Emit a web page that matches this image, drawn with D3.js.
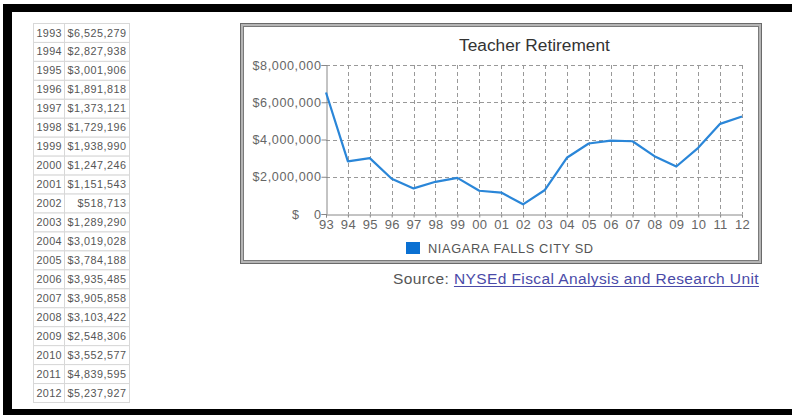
<!DOCTYPE html>
<html><head><meta charset="utf-8">
<script src="https://cdn.jsdelivr.net/npm/d3@7"></script>
<style>
body{margin:0;background:#fff}
svg{display:block}
text{font-family:"Liberation Sans",Arial,Helvetica,sans-serif}
</style>
</head><body>
<svg id="c" width="792" height="415"></svg>
<script>
const years = [1993,1994,1995,1996,1997,1998,1999,2000,2001,2002,2003,2004,2005,2006,2007,2008,2009,2010,2011,2012];
const values = [6525279,2827938,3001906,1891818,1373121,1729196,1938990,1247246,1151543,518713,1289290,3019028,3784188,3935485,3905858,3103422,2548306,3552577,4839595,5237927];
const yTicks = [0,2000000,4000000,6000000,8000000];
const xLabels = years.map(y => String(y).slice(2));
const title = "Teacher Retirement";
const seriesName = "NIAGARA FALLS CITY SD";
const sourceLabel = "Source: ";
const sourceLink = "NYSEd Fiscal Analysis and Research Unit";

const svg = d3.select("#c");
const money = d3.format("$,");

// outer black frame
svg.append("rect").attr("x",3).attr("y",4).attr("width",789).attr("height",8).attr("fill","#000");
svg.append("rect").attr("x",3).attr("y",4).attr("width",9).attr("height",411).attr("fill","#000");
svg.append("rect").attr("x",3).attr("y",409).attr("width",789).attr("height",6).attr("fill","#000");

// data table
const tx0 = 33, tx1 = 64, tx2 = 129, ty0 = 23, rh = 18.95;
const tbl = svg.append("g");
years.forEach((yr, i) => {
  const y = ty0 + i*rh;
  tbl.append("rect").attr("x",tx0+0.5).attr("y",y+0.5).attr("width",tx1-tx0).attr("height",rh)
    .attr("fill","#fff").attr("stroke","#d8d8d8");
  tbl.append("rect").attr("x",tx1+0.5).attr("y",y+0.5).attr("width",tx2-tx1).attr("height",rh)
    .attr("fill","#fff").attr("stroke","#d8d8d8");
  tbl.append("text").attr("x",36.5).attr("y",y+13.5).attr("font-size",10.8).attr("letter-spacing",0.35)
    .attr("fill","#555").text(yr);
  tbl.append("text").attr("x",126.5).attr("y",y+13.5).attr("font-size",10.8).attr("letter-spacing",0.5)
    .attr("fill","#555").attr("text-anchor","end").text(money(values[i]));
});

// chart box with ridge border
const bx = 240, by = 23, bw = 522, bh = 241;
svg.append("rect").attr("x",bx+2).attr("y",by+2).attr("width",bw-4).attr("height",bh-4)
  .attr("fill","#fff").attr("stroke","#b5b5b5").attr("stroke-width",4);
svg.append("rect").attr("x",bx+0.5).attr("y",by+0.5).attr("width",bw-1).attr("height",bh-1)
  .attr("fill","none").attr("stroke","#6a6a6a").attr("stroke-width",1);
svg.append("rect").attr("x",bx+3.5).attr("y",by+3.5).attr("width",bw-7).attr("height",bh-7)
  .attr("fill","none").attr("stroke","#7a7a7a").attr("stroke-width",1);

// scales
const x = d3.scalePoint().domain(xLabels).range([326, 742]);
const y = d3.scaleLinear().domain([0, 8000000]).range([214, 65]);

// title
svg.append("text").attr("x",534.5).attr("y",51).attr("text-anchor","middle")
  .attr("font-size",17.3).attr("fill","#333").text(title);

// grid
const grid = svg.append("g").attr("stroke","#999").attr("stroke-dasharray","4,3").attr("stroke-width",1);
yTicks.filter(d => d > 0).forEach(d => {
  grid.append("line").attr("x1",326).attr("x2",742).attr("y1",Math.round(y(d))+0.5).attr("y2",Math.round(y(d))+0.5);
});
xLabels.slice(1).forEach(d => {
  grid.append("line").attr("x1",Math.round(x(d))+0.5).attr("x2",Math.round(x(d))+0.5).attr("y1",y(8000000)).attr("y2",y(0));
});

// axes
const yAxis = d3.axisLeft(y).tickValues(yTicks).tickSize(5).tickPadding(0)
  .tickFormat(d => d === 0 ? "0" : money(d));
const gy = svg.append("g").attr("transform","translate(326.5,0)").call(yAxis);
gy.select(".domain").attr("stroke","#888");
gy.selectAll(".tick line").attr("stroke","#888");
gy.selectAll(".tick text").attr("font-size",12.6).attr("letter-spacing",0.6).attr("fill","#666").attr("font-family",null);
svg.append("text").attr("x",292).attr("y",y(0)+1).attr("dy","0.32em").attr("font-size",12.6).attr("fill","#666").text("$");

const xAxis = d3.axisBottom(x).tickSize(3).tickPadding(2);
const gx = svg.append("g").attr("transform","translate(0,214.5)").call(xAxis);
gx.select(".domain").attr("stroke","#888");
gx.selectAll(".tick line").attr("stroke","#888");
gx.selectAll(".tick text").attr("font-size",13).attr("letter-spacing",0.3).attr("fill","#666").attr("font-family",null);

// line
const line = d3.line().x((d,i) => x(xLabels[i])).y(d => y(d));
svg.append("path").datum(values).attr("d",line).attr("fill","none")
  .attr("stroke","#2a86d8").attr("stroke-width",2.2).attr("stroke-linejoin","round");

// legend
svg.append("rect").attr("x",406).attr("y",242).attr("width",14).attr("height",12).attr("fill","#0a70d2");
svg.append("text").attr("x",428).attr("y",252.5).attr("font-size",12.8).attr("letter-spacing",0.62)
  .attr("fill","#555").text(seriesName);

// source
const st = svg.append("text").attr("x",393).attr("y",284).attr("font-size",15.5).attr("letter-spacing",0.4);
st.append("tspan").attr("fill","#555").text(sourceLabel);
st.append("tspan").attr("fill","#4a4aa8").text(sourceLink);
const node = st.node();
const startX = node.getStartPositionOfChar(sourceLabel.length).x;
const endX = node.getEndPositionOfChar(sourceLabel.length + sourceLink.length - 1).x;
svg.append("line").attr("x1",startX).attr("x2",endX).attr("y1",286.5).attr("y2",286.5)
  .attr("stroke","#4a4aa8").attr("stroke-width",1);
</script>
</body></html>
